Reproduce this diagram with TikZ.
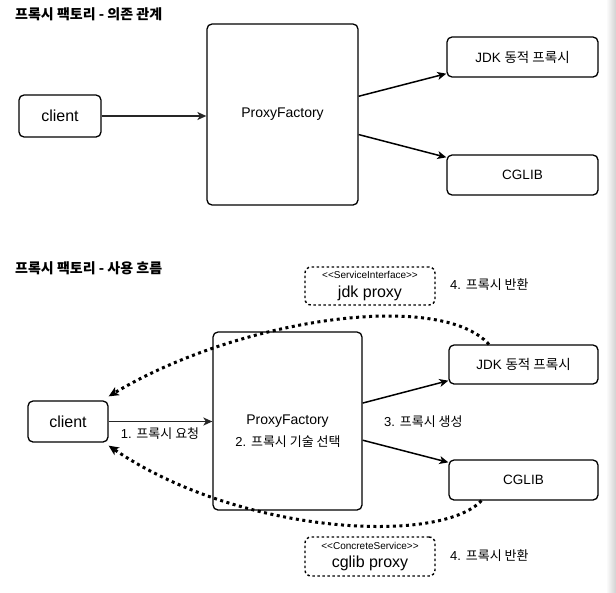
\documentclass[tikz,border=0pt]{standalone}
\usepackage{fontspec}
\setmainfont{Liberation Sans}
\newfontfamily\kr{Noto Sans CJK KR}
\usetikzlibrary{arrows.meta,calc}
\begin{document}
\begin{tikzpicture}[x=1pt,y=-1pt,
  box/.style={draw, line width=1.3pt, rounded corners=5pt, inner sep=0pt, align=center, font=\fontsize{13.5}{16}\selectfont},
  ghost/.style={draw, line width=1.4pt, dash pattern=on 2.5pt off 2.5pt, rounded corners=6pt, inner sep=0pt, align=center, font=\fontsize{16}{18.5}\selectfont},
  arr/.style={line width=1.5pt, -{Stealth[length=9pt,width=8pt,inset=2.5pt]}},
  fine/.style={line width=1.8pt, draw=black!85},
  ret/.style={line width=3pt, dash pattern=on 3pt off 3.5pt, -{Stealth[length=10pt,width=9pt,inset=2.5pt]}},
  lbl/.style={font=\fontsize{13}{15}\selectfont, inner sep=0pt},
  title/.style={font=\fontsize{14}{16}\selectfont\bfseries\kr, anchor=west, inner sep=0pt}]
\fill[white] (0,0) rectangle (616,592);
\useasboundingbox (0,0) rectangle (616,592);
\shade[left color=white, right color=black!18] (606,0) rectangle (616,592);

% ---------- top: dependency ----------
\node[title] (t1) at (15,14) {프록시 팩토리 - 의존 관계};
\node[box, minimum width=82pt, minimum height=42pt, font=\fontsize{16}{18}\selectfont] (c1) at (60,116) {client};
\node[box, minimum width=151pt, minimum height=181pt, font=\fontsize{14}{16}\selectfont] (pf1) at (282.5,114.5) {ProxyFactory};
\node[box, minimum width=151pt, minimum height=40pt] (jdk1) at (522.5,57) {JDK {\kr 동적 프록시}};
\node[box, minimum width=151pt, minimum height=40pt] (cg1) at (522.5,175) {CGLIB};

\draw[arr, fine] (c1.east) -- (c1.east -| pf1.west);
\draw[arr] ($(pf1.north east)!0.4!(pf1.south east)$) -- ($(jdk1.south west)+(0,-4)$);
\draw[arr] ($(pf1.north east)!0.61!(pf1.south east)$) -- ($(cg1.north west)+(0,3)$);

% ---------- bottom: usage flow ----------
\node[title] (t2) at (15,268) {프록시 팩토리 - 사용 흐름};
\node[box, minimum width=80pt, minimum height=41pt, font=\fontsize{16}{18}\selectfont] (c2) at (68,421.5) {client};
\node[box, minimum width=149pt, minimum height=178pt, font=\fontsize{14}{16}\selectfont] (pf2) at (287.5,421) {ProxyFactory};
\node[lbl] (sel) at (288,442) {2. {\kr 프록시 기술 선택}};
\node[box, minimum width=149pt, minimum height=39pt] (jdk2) at (523.5,364.5) {JDK {\kr 동적 프록시}};
\node[box, minimum width=149pt, minimum height=40pt] (cg2) at (523.5,480) {CGLIB};

\node[ghost, minimum width=130pt, minimum height=38pt] (jp) at (370,286)
  {{\fontsize{10}{11}\selectfont <{}<ServiceInterface>{}>}\\jdk proxy};
\node[ghost, minimum width=130pt, minimum height=39pt] (cp) at (370,556.5)
  {{\fontsize{10}{11}\selectfont <{}<ConcreteService>{}>}\\cglib proxy};
\node[lbl, anchor=west] (r1) at (450,285) {4. {\kr 프록시 반환}};
\node[lbl, anchor=west] (r2) at (450,556) {4. {\kr 프록시 반환}};
\node[lbl] (req) at (160,434) {1. {\kr 프록시 요청}};
\node[lbl, anchor=west] (gen) at (384,422) {3. {\kr 프록시 생성}};

\draw[arr, fine] (c2.east) -- (c2.east -| pf2.west);
\draw[arr] ($(pf2.north east)!0.4!(pf2.south east)$) -- ($(jdk2.south west)+(0,-4)$);
\draw[arr] ($(pf2.north east)!0.607!(pf2.south east)$) -- ($(cg2.north west)+(0,3)$);

\draw[ret] ($(jdk2.north west)!0.27!(jdk2.north east)$) .. controls (440,290) and (240,318) .. ($(c2.north east)+(0,-4)$);
\draw[ret] ($(cg2.south west)!0.22!(cg2.south east)$) .. controls (440,545) and (240,535) .. ($(c2.south east)+(0,3)$);
\end{tikzpicture}
\end{document}
